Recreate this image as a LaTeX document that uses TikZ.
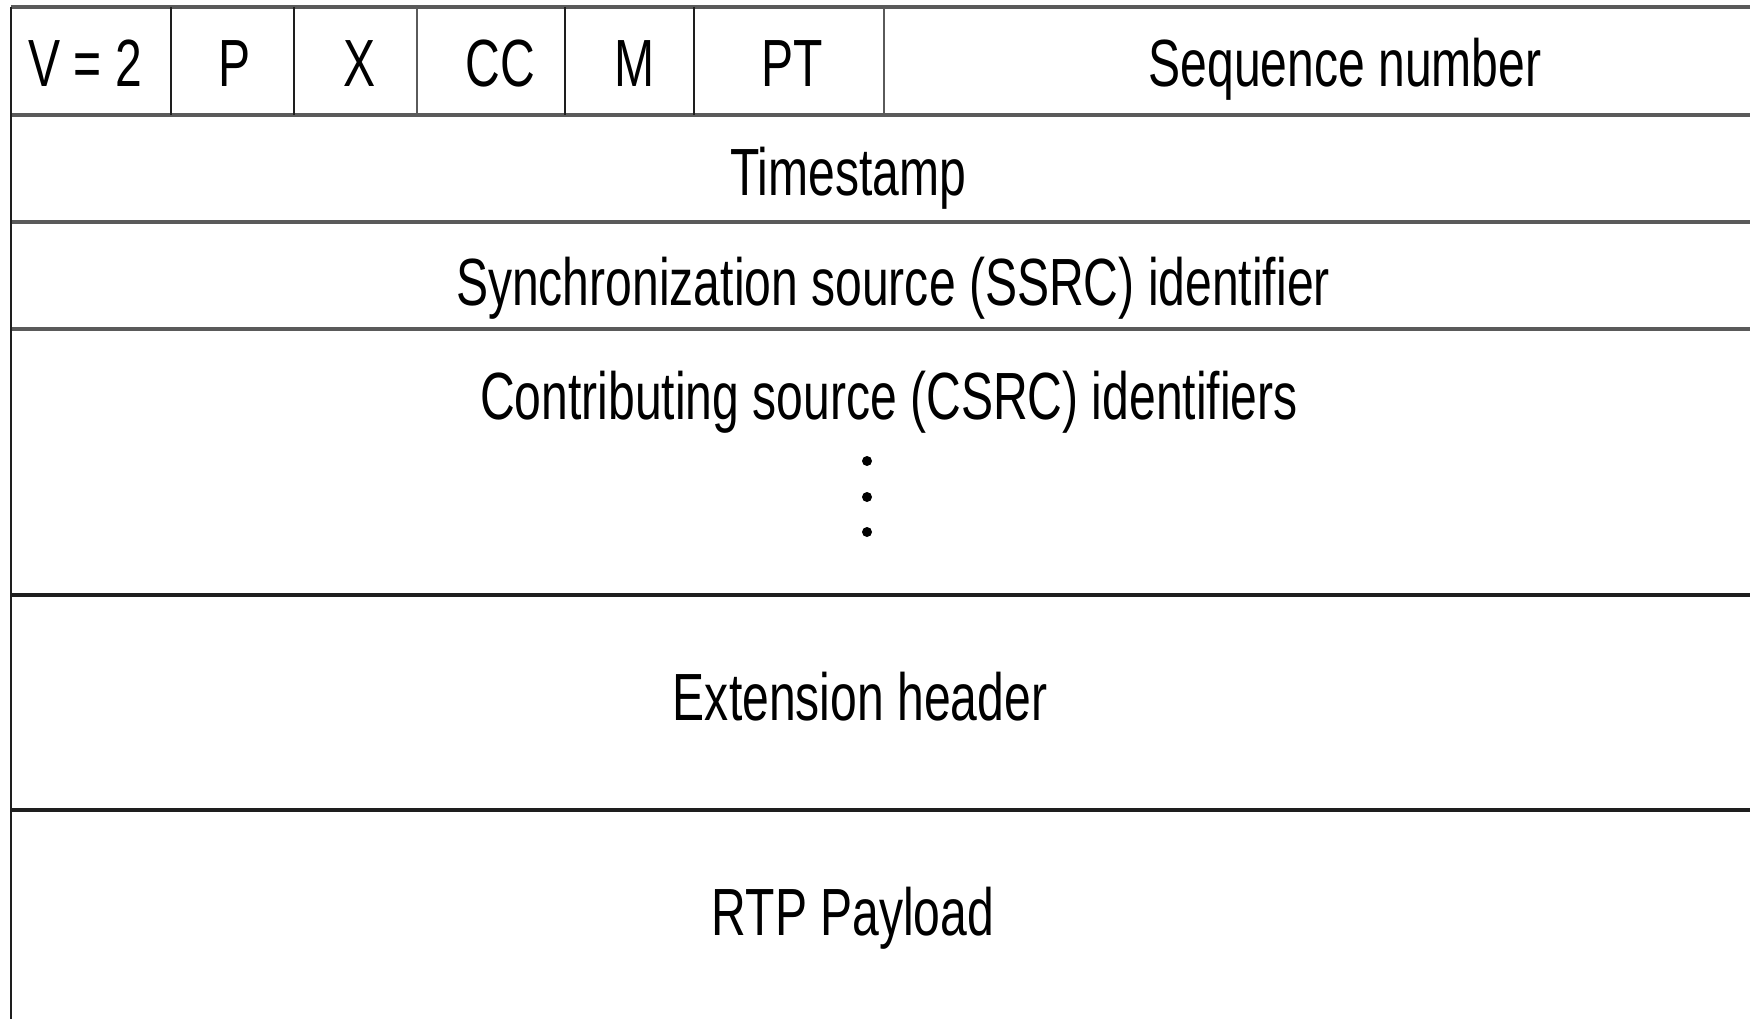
\documentclass[tikz,border=0pt]{standalone}
\usepackage{fontspec}
\setmainfont{Liberation Sans}[FakeStretch=0.72]
\definecolor{rowgray}{HTML}{5A5A5A}
\definecolor{rowdark}{HTML}{1E1E1E}
\tikzset{
	field/.style = {font=\fontsize{19}{22}\selectfont, inner sep=0pt, anchor=base},
}

\begin{document}
\begin{tikzpicture}

	\clip (0,0) rectangle (17.5,10.18);
	\fill [white] (0,0) rectangle (17.5,10.18);

	% header rows
	\draw [line width =1pt, rowgray] (0.11,10.11) -- (18.2,10.11);
	\draw [line width =1pt, rowgray] (0.11,9.03) -- (18.2,9.03);
	\draw [line width =1pt, rowgray] (0.11,7.96) -- (18.2,7.96);
	\draw [line width =1pt, rowgray] (0.11,6.89) -- (18.2,6.89);
	\draw [line width =1pt, rowdark] (0.11,4.23) -- (18.2,4.23);
	\draw [line width =1pt, rowdark] (0.11,2.08) -- (18.2,2.08);
	\draw [line width =0.7pt, rowdark] (0.11,10.11) -- (0.11,-0.2);

	% first word fields
	\draw [line width =0.6pt, rowdark] (1.71,10.11) -- (1.71,9.03);
	\draw [line width =0.6pt, rowdark] (2.94,10.11) -- (2.94,9.03);
	\draw [line width =0.6pt, rowgray] (4.17,10.11) -- (4.17,9.03);
	\draw [line width =0.6pt, rowdark] (5.65,10.11) -- (5.65,9.03);
	\draw [line width =0.6pt, rowdark] (6.94,10.11) -- (6.94,9.03);
	\draw [line width =0.6pt, rowgray] (8.84,10.11) -- (8.84,9.03);

	\node [field] (vers) at (0.85,9.32) {V = 2};
	\node [field] (padd) at (2.35,9.32) {P};
	\node [field] (xbit) at (3.60,9.32) {X};
	\node [field] (ccnt) at (5.00,9.32) {CC};
	\node [field] (mark) at (6.35,9.32) {M};
	\node [field] (ptype) at (7.92,9.32) {PT};
	\node [field] (seqnum) at (13.45,9.31) {Sequence number};

	\node [field] (tstamp) at (8.48,8.23) {Timestamp};
	\node [field] (ssrc) at (8.93,7.13) {Synchronization source (SSRC) identifier};
	\node [field] (csrc) at (8.89,5.99) {Contributing source (CSRC) identifiers};
	\fill [black] (8.67,5.57) circle [radius = 0.05];
	\fill [black] (8.67,5.21) circle [radius = 0.05];
	\fill [black] (8.67,4.86) circle [radius = 0.05];

	\node [field] (exthdr) at (8.60,2.98) {Extension header};
	\node [field] (payload) at (8.53,0.83) {RTP Payload};

\end{tikzpicture}
\end{document}
